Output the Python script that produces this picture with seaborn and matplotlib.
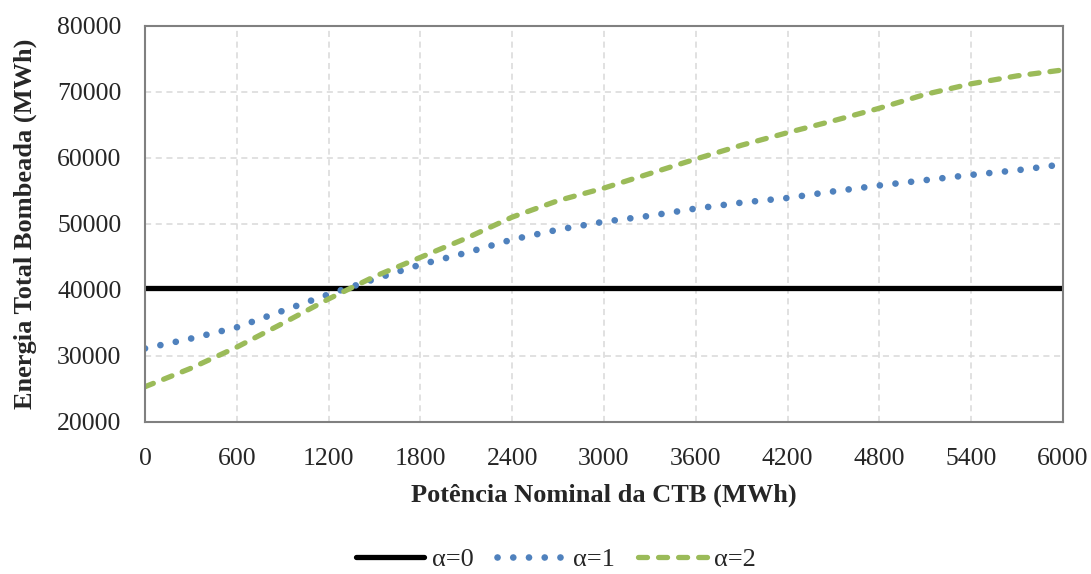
import numpy as np
import pandas as pd
import matplotlib
matplotlib.use('Agg')
import matplotlib.pyplot as plt
import seaborn as sns

# Potência nominal da CTB (MWh)
potencia = [0, 300, 600, 900, 1200, 1500, 1800, 2100, 2400, 2700, 3000,
            3300, 3600, 3900, 4200, 4500, 4800, 5100, 5400, 5700, 6000]

# Energia total bombeada (MWh) for each alpha
alpha0 = [40300] * len(potencia)
alpha1 = [31100, 32600, 34300, 36800, 39300, 41600, 43800, 45600, 47600, 49100, 50300,
          51200, 52300, 53200, 53900, 54900, 55800, 56600, 57400, 58100, 59000]
alpha2 = [25300, 28100, 31300, 34900, 38600, 42000, 44900, 47800, 51000, 53500, 55400,
          57600, 59800, 61900, 63800, 65600, 67500, 69600, 71200, 72400, 73300]

labels = ['α=0', 'α=1', 'α=2']

sns.set_style('white')
plt.rcParams['font.family'] = ['Liberation Serif', 'DejaVu Serif']

fig, ax = plt.subplots(figsize=(10.91, 5.74), dpi=100)
fig.subplots_adjust(left=0.1329, right=0.9743, top=0.9552, bottom=0.2653)

# grid first so the lines sit on top
ax.set_axisbelow(True)
ax.grid(True, color='#D9D9D9', linestyle=(0, (4, 3)), linewidth=1.1)

sns.lineplot(x=potencia, y=alpha0, ax=ax, color='black', linewidth=3.8,
             label=labels[0])
sns.lineplot(x=potencia, y=alpha1, ax=ax, color='#4F81BD', linewidth=4.8,
             linestyle=(0, (0.01, 2.35)), dash_capstyle='round', label=labels[1])
sns.lineplot(x=potencia, y=alpha2, ax=ax, color='#9BBB59', linewidth=3.8,
             linestyle=(0, (1.7, 2.1)), dash_capstyle='round', label=labels[2])

ax.set_xlim(0, 6000)
ax.set_ylim(20000, 80000)
ax.set_xticks(np.arange(0, 6001, 600))
ax.set_yticks(np.arange(20000, 80001, 10000))
ax.tick_params(axis='both', labelsize=18.5, length=0)
ax.tick_params(axis='x', pad=19)
ax.tick_params(axis='y', pad=17)

for sp in ax.spines.values():
    sp.set_visible(True)
    sp.set_color('#808080')
    sp.set_linewidth(1.5)

ax.set_xlabel('Potência Nominal da CTB (MWh)', fontsize=19, fontweight='bold')
ax.set_ylabel('Energia Total Bombeada (MWh)', fontsize=19, fontweight='bold')
ax.xaxis.set_label_coords(0.5, -0.157)
ax.yaxis.set_label_coords(-0.118, 0.5)

ax.legend_.remove()
handles, labs = ax.get_legend_handles_labels()
fig.legend(handles, labs, loc='center', bbox_to_anchor=(0.5096, 0.026), ncol=3,
           frameon=False, fontsize=19, handlelength=2.6, columnspacing=0.9,
           handletextpad=0.27, borderpad=0.2, borderaxespad=0)

fig.savefig('out.png', dpi=100)
